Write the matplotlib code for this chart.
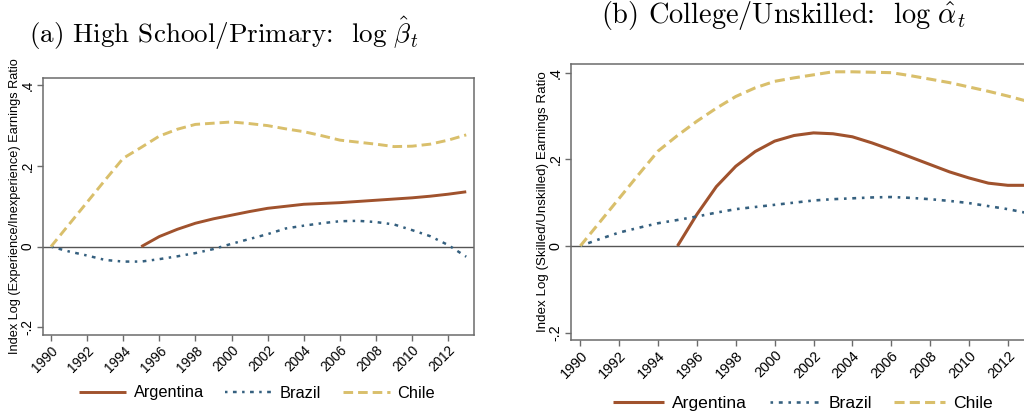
import numpy as np
import matplotlib
matplotlib.use("Agg")
import matplotlib.pyplot as plt
from matplotlib.ticker import FixedLocator, FixedFormatter

plt.rcParams['font.family'] = ['Liberation Sans', 'DejaVu Sans']
plt.rcParams['mathtext.fontset'] = 'cm'

years = np.arange(1990, 2014)
years_arg = np.arange(1995, 2014)

# panel (a): high school / primary
arg_a = [0.0, 0.025, 0.043, 0.058, 0.069, 0.078, 0.087, 0.095, 0.100, 0.105,
         0.107, 0.109, 0.112, 0.115, 0.118, 0.121, 0.125, 0.130, 0.136]
bra_a = [0.0, -0.012, -0.022, -0.033, -0.037, -0.037, -0.031, -0.024, -0.016, -0.006,
         0.007, 0.019, 0.031, 0.045, 0.052, 0.058, 0.063, 0.064, 0.061, 0.055,
         0.041, 0.026, 0.004, -0.025]
chi_a = [0.0, 0.055, 0.110, 0.165, 0.219, 0.246, 0.274, 0.291, 0.303, 0.306,
         0.309, 0.305, 0.300, 0.292, 0.285, 0.275, 0.264, 0.259, 0.254, 0.248,
         0.249, 0.254, 0.264, 0.277]

# panel (b): college / unskilled
arg_b = [0.0, 0.073, 0.137, 0.184, 0.218, 0.242, 0.255, 0.261, 0.259, 0.252,
         0.238, 0.222, 0.205, 0.188, 0.171, 0.157, 0.145, 0.140, 0.140]
bra_b = [0.0, 0.016, 0.031, 0.042, 0.0525, 0.060, 0.068, 0.077, 0.085, 0.090,
         0.095, 0.100, 0.105, 0.108, 0.110, 0.112, 0.113, 0.111, 0.108, 0.104,
         0.099, 0.092, 0.085, 0.076]
chi_b = [0.0, 0.055, 0.110, 0.165, 0.219, 0.255, 0.288, 0.318, 0.345, 0.365,
         0.380, 0.388, 0.395, 0.402, 0.402, 0.401, 0.400, 0.393, 0.385, 0.377,
         0.367, 0.357, 0.346, 0.334]

c_arg = "#A0522D"
c_bra = "#35607F"
c_chi = "#D9BF6B"
spine_c = "#6b6b6b"

fig = plt.figure(figsize=(10.24, 4.16), dpi=100)
ax1 = fig.add_axes([43/1024, 81/416, 431/1024, 257/416])
ax2 = fig.add_axes([571/1024, 76/416, 465/1024, 276/416])


def style_axis(ax, ylabel, xlim, ylim, fs, lab_fs, lab_x):
    ax.axhline(0, color="#555555", lw=1.0, zorder=1)
    ax.set_xlim(*xlim)
    ax.set_ylim(*ylim)
    ax.xaxis.set_major_locator(FixedLocator(range(1990, 2013, 2)))
    ax.yaxis.set_major_locator(FixedLocator([-0.2, 0, 0.2, 0.4]))
    ax.yaxis.set_major_formatter(FixedFormatter(["-.2", "0", ".2", ".4"]))
    ax.tick_params(axis='both', direction='out', length=4, width=1, color=spine_c,
                   labelsize=fs, pad=2)
    for lab in ax.get_xticklabels():
        lab.set_rotation(45)
        lab.set_ha('right')
        lab.set_rotation_mode('anchor')
    for lab in ax.get_yticklabels():
        lab.set_rotation(90)
        lab.set_va('center')
    for s in ax.spines.values():
        s.set_color(spine_c)
        s.set_linewidth(1.1)
    ax.set_ylabel(ylabel, fontsize=lab_fs)
    ax.yaxis.label.set_va('center')
    ax.yaxis.set_label_coords(lab_x, 0.5)


def draw(ax, arg, bra, chi, lw):
    ax.plot(years_arg, arg, color=c_arg, lw=lw, solid_capstyle='butt', label="Argentina", zorder=3)
    ax.plot(years, bra, color=c_bra, lw=lw * 0.85, linestyle=(0, (1.0, 2.2, 1.5, 2.2)),
            label="Brazil", zorder=3)
    ax.plot(years, chi, color=c_chi, lw=lw, linestyle=(0, (3.3, 1.7)), label="Chile", zorder=3)


draw(ax1, arg_a, bra_a, chi_a, 2.1)
draw(ax2, arg_b, bra_b, chi_b, 2.2)

style_axis(ax1, "Index Log (Experience/Inexperience) Earnings Ratio",
           (1989.56, 2013.43), (-0.219, 0.418), 9.8, 9.2, -0.066)
style_axis(ax2, "Index Log (Skilled/Unskilled) Earnings Ratio",
           (1989.52, 2013.45), (-0.217, 0.42), 10.4, 9.6, -0.061)

ax1.legend(loc='center', bbox_to_anchor=(257/1024, 23/416), bbox_transform=fig.transFigure,
           ncol=3, frameon=False, fontsize=11.8, handlelength=2.9, columnspacing=1.3,
           handletextpad=0.45)
ax2.legend(loc='center', bbox_to_anchor=(803/1024, 13/416), bbox_transform=fig.transFigure,
           ncol=3, frameon=False, fontsize=12.6, handlelength=2.9, columnspacing=1.3,
           handletextpad=0.45)

fig.text(224/1024, 1 - 33/416, r"(a) High School/Primary:  $\log\,\hat{\beta}_t$",
         family='cmr10', ha='center', va='center', fontsize=19.5)
fig.text(783/1024, 1 - 16/416, r"(b) College/Unskilled:  $\log\,\hat{\alpha}_t$",
         family='cmr10', ha='center', va='center', fontsize=20.4)

fig.savefig("out.png", dpi=100)
